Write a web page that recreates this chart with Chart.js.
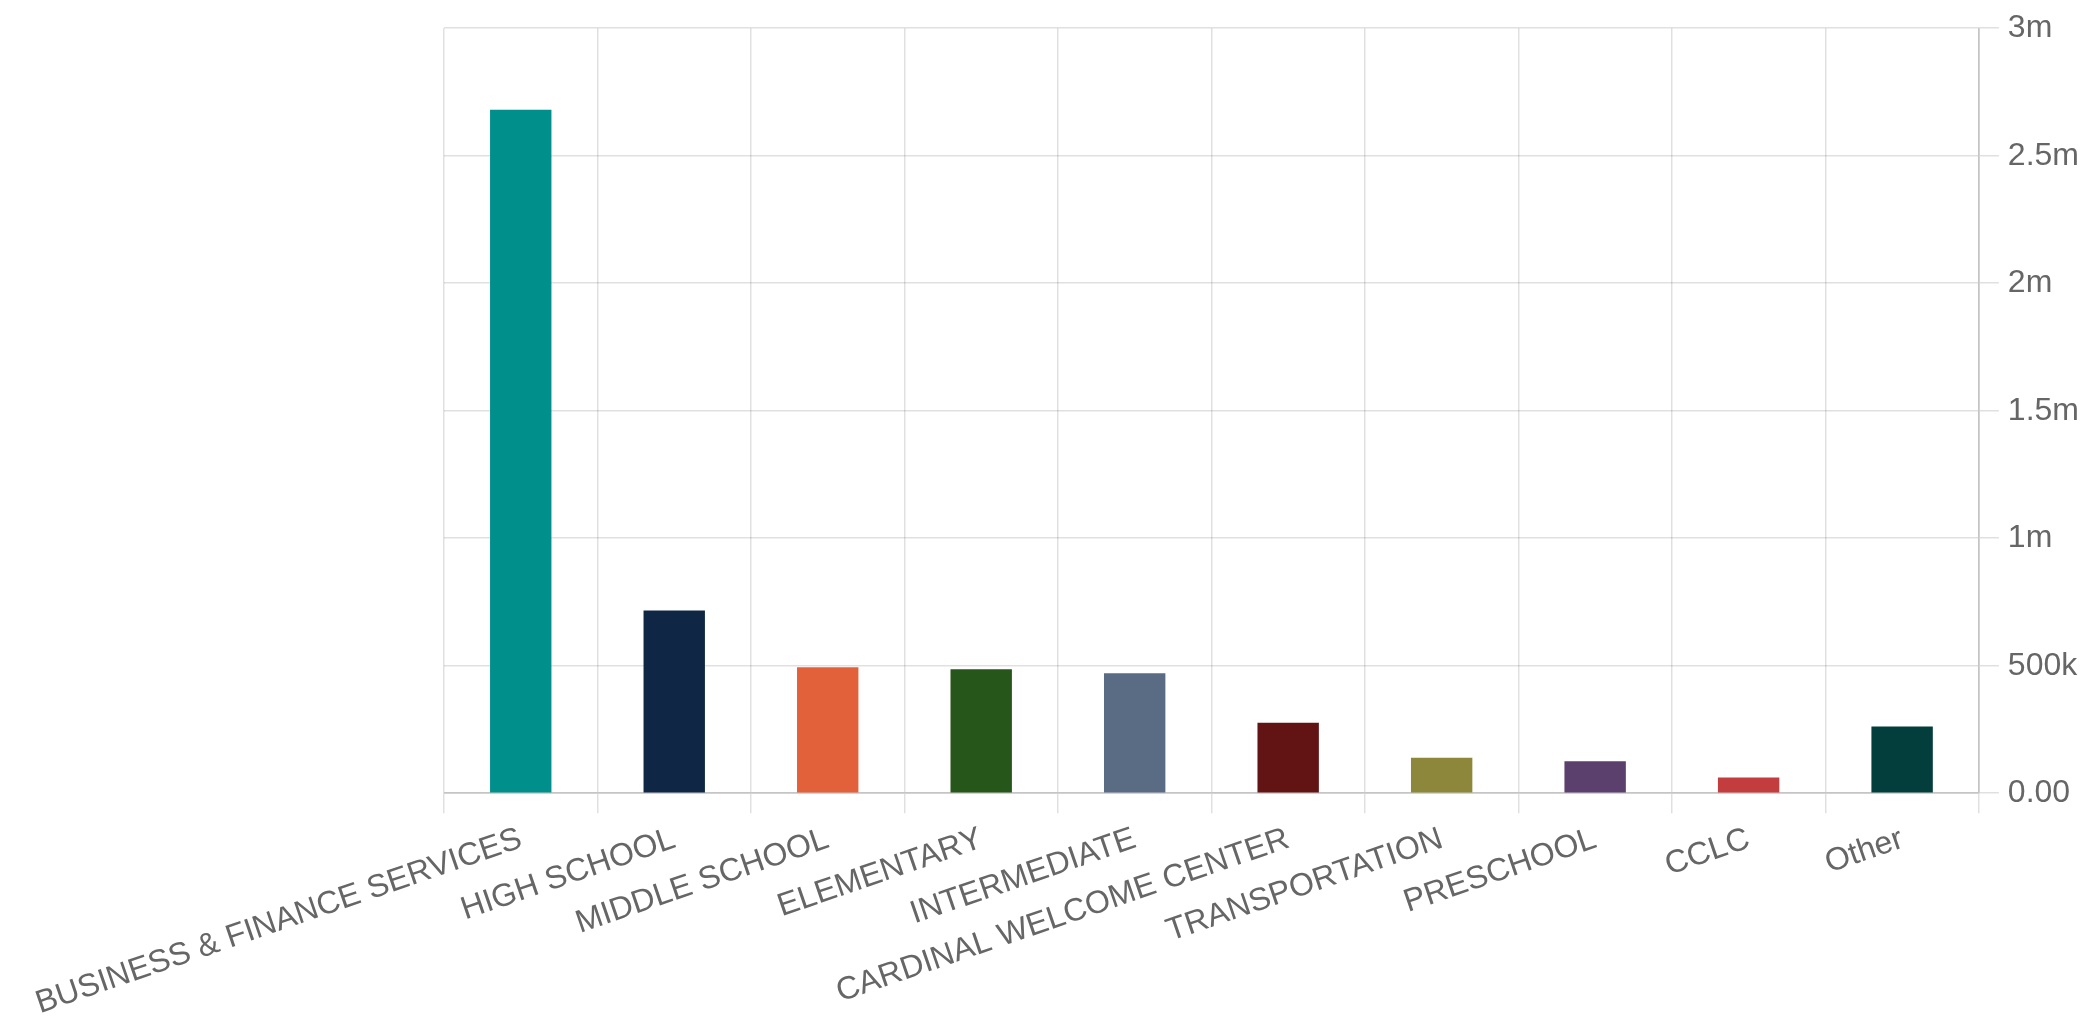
<!DOCTYPE html>
<html>
<head>
<meta charset="utf-8">
<title>Spending by department</title>
<script src="https://cdn.jsdelivr.net/npm/chart.js@4.4.1/dist/chart.umd.min.js"></script>
<style>
  html, body { margin: 0; padding: 0; background: #fff; }
  #wrap { width: 2093px; height: 1020px; }
</style>
</head>
<body>
<div id="wrap"><canvas id="grafica"></canvas></div>
<script>
const categorias = [
  "BUSINESS & FINANCE SERVICES",
  "HIGH SCHOOL",
  "MIDDLE SCHOOL",
  "ELEMENTARY",
  "INTERMEDIATE",
  "CARDINAL WELCOME CENTER",
  "TRANSPORTATION",
  "PRESCHOOL",
  "CCLC",
  "Other"
];
const valores = [2680000, 716000, 494000, 486000, 470000, 276000, 139000, 125000, 62000, 262000];
const colores = ["#008f8a", "#0f2745", "#e2613a", "#27561a", "#5a6c83", "#621415", "#8c873b", "#5b3f6d", "#c43d3e", "#033e3c"];
const yMin = 0;
const yMax = 3000000;
const yPaso = 500000;

function etiquetaY(v) {
  if (v === 0) return "0.00";
  if (v >= 1000000) return (v / 1000000) + "m";
  return (v / 1000) + "k";
}

const fuente = "Arial, 'Liberation Sans', sans-serif";
const gris = "rgba(0,0,0,0.12)";

new Chart(document.getElementById("grafica"), {
  type: "bar",
  data: {
    labels: categorias,
    datasets: [{
      data: valores,
      backgroundColor: colores,
      borderWidth: 0,
      categoryPercentage: 1,
      barPercentage: 0.4
    }]
  },
  options: {
    responsive: true,
    maintainAspectRatio: false,
    animation: false,
    devicePixelRatio: 1,
    layout: { padding: { top: 12, right: 5, left: 444, bottom: -10 } },
    plugins: {
      legend: { display: false },
      tooltip: { enabled: false }
    },
    scales: {
      x: {
        grid: { color: gris, lineWidth: 1.5, tickLength: 20, offset: true },
        border: { color: gris, width: 2 },
        ticks: {
          color: "#666",
          font: { family: fuente, size: 32, lineHeight: 1 },
          minRotation: 19,
          maxRotation: 19,
          autoSkip: false,
          padding: 10
        }
      },
      y: {
        position: "right",
        min: yMin,
        max: yMax,
        grid: { color: gris, lineWidth: 1.5, tickLength: 20 },
        border: { color: gris, width: 2 },
        ticks: {
          stepSize: yPaso,
          color: "#666",
          font: { family: fuente, size: 32 },
          padding: 9,
          callback: v => etiquetaY(v)
        }
      }
    }
  }
});
</script>
</body>
</html>
